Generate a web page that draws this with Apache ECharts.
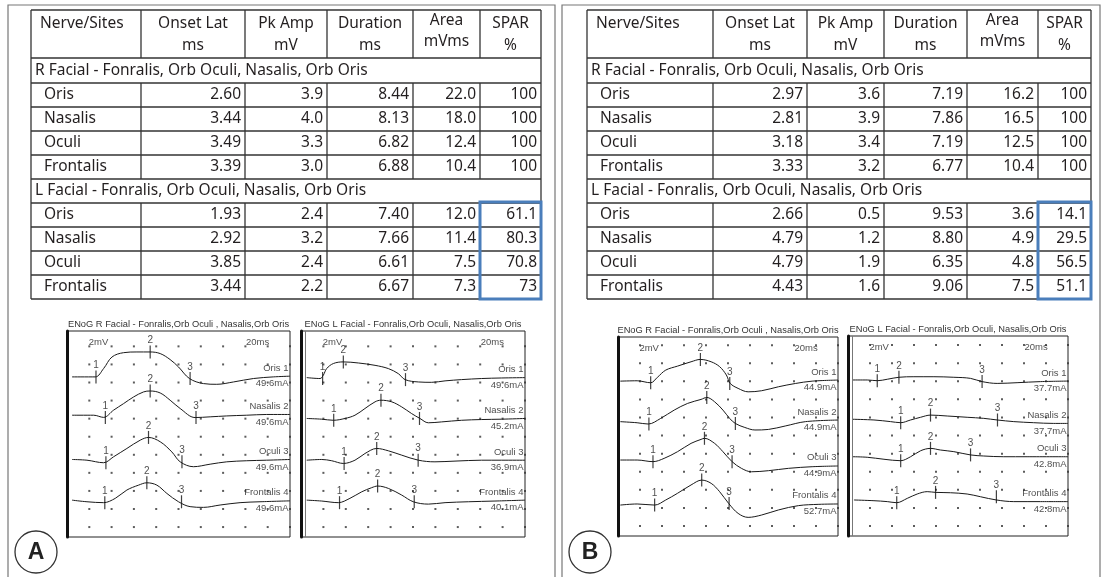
<!DOCTYPE html>
<html>
<head>
<meta charset="utf-8">
<script src="https://cdn.jsdelivr.net/npm/echarts@6/dist/echarts.min.js"></script>
<style>
  html, body { margin: 0; padding: 0; background: #fff; }
  #chart { width: 1109px; height: 577px; }
</style>
</head>
<body>
<div id="chart"></div>
<script>
// ---- table data ----
var headers = [['Nerve/Sites', ''], ['Onset Lat', 'ms'], ['Pk Amp', 'mV'], ['Duration', 'ms'], ['Area', 'mVms'], ['SPAR', '%']];
var groupR = 'R Facial - Fonralis, Orb Oculi, Nasalis, Orb Oris';
var groupL = 'L Facial - Fonralis, Orb Oculi, Nasalis, Orb Oris';
var sites = ['Oris', 'Nasalis', 'Oculi', 'Frontalis'];

// onset lat, pk amp, duration, area, spar
var tabA_R = [['2.60', '3.9', '8.44', '22.0', '100'], ['3.44', '4.0', '8.13', '18.0', '100'], ['3.49', '3.3', '6.82', '12.4', '100'], ['3.39', '3.0', '6.88', '10.4', '100']];
var tabA_L = [['1.93', '2.4', '7.40', '12.0', '61.1'], ['2.92', '3.2', '7.66', '11.4', '80.3'], ['3.85', '2.4', '6.61', '7.5', '70.8'], ['3.44', '2.2', '6.67', '7.3', '73']];
var tabB_R = [['2.97', '3.6', '7.19', '16.2', '100'], ['2.81', '3.9', '7.86', '16.5', '100'], ['3.18', '3.4', '7.19', '12.5', '100'], ['3.33', '3.2', '6.77', '10.4', '100']];
var tabB_L = [['2.66', '0.5', '9.53', '3.6', '14.1'], ['4.79', '1.2', '8.80', '4.9', '29.5'], ['4.79', '1.9', '6.35', '4.8', '56.5'], ['4.43', '1.6', '9.06', '7.5', '51.1']];

// ---- waveform data: [time ms, level in divisions] ----
var traceNames = ['Oris 1', 'Nasalis 2', 'Oculi 3', 'Frontalis 4'];
var gridTimes = [2, 4, 6, 8, 10, 12, 14, 16, 18, 20];
var gridRows = [0.55, 1.55, 2.55, 3.55, 4.55, 5.55, 6.55, 7.55, 8.55, 9.55, 10.55];

var wavA_R = [
  [[0.45,8.86],[2.54,8.86],[3.28,9.32],[4.03,9.96],[5.07,10.2],[6.27,10.24],[7.46,10.24],[8.36,10.15],[9.25,9.82],[10.0,9.41],[10.98,8.77],[12.24,8.49],[13.43,8.45],[14.93,8.58],[16.72,8.77],[18.5,8.86],[20,8.9]],
  [[0.45,6.74],[2.39,6.74],[3.28,6.62],[4.18,7.02],[5.07,7.38],[5.97,7.75],[6.87,8.03],[7.46,8.08],[8.36,7.97],[9.25,7.57],[10.15,7.11],[11.49,6.61],[12.84,6.65],[14.33,6.7],[16.12,6.74],[17.91,6.78],[20,6.78]],
  [[0.45,4.29],[1.79,4.25],[3.28,4.11],[4.18,4.44],[5.37,4.9],[6.57,5.36],[7.31,5.51],[8.36,5.27],[9.4,4.71],[10.15,4.16],[11.34,3.89],[12.84,4.03],[14.33,4.16],[16.12,4.22],[17.91,4.25],[20,4.29]],
  [[0.45,2.04],[1.79,1.95],[3.28,1.9],[4.33,2.14],[5.37,2.6],[6.42,2.87],[7.16,3.0],[8.06,2.87],[8.96,2.41],[10.0,1.95],[11.04,1.68],[12.24,1.64],[13.73,1.77],[15.52,1.9],[17.31,1.95],[20,2.0]]
];
var wavA_L = [
  [[0.51,8.82],[1.7,8.77],[1.99,8.95],[2.29,9.32],[2.89,9.6],[3.78,9.69],[5.12,9.63],[6.61,9.5],[7.8,9.32],[8.69,9.04],[9.29,8.71],[10.48,8.58],[11.67,8.56],[12.86,8.64],[14.34,8.71],[16.13,8.77],[17.92,8.8],[20,8.82]],
  [[0.51,6.56],[1.85,6.52],[2.89,6.46],[3.93,6.56],[4.82,6.74],[5.71,7.11],[6.61,7.48],[7.14,7.57],[8.1,7.48],[8.99,7.2],[9.88,6.83],[10.62,6.56],[11.37,6.32],[12.56,6.37],[14.34,6.46],[16.13,6.5],[17.92,6.52],[20,6.56]],
  [[0.51,4.25],[1.85,4.29],[2.74,4.22],[3.78,4.07],[4.82,4.25],[5.71,4.62],[6.76,4.9],[7.8,4.77],[8.99,4.53],[10.48,4.25],[11.96,4.16],[13.75,4.2],[16.13,4.25],[17.92,4.25],[20,4.25]],
  [[0.51,2.04],[1.85,1.99],[3.33,1.9],[4.37,2.14],[5.42,2.5],[6.31,2.73],[6.84,2.82],[7.8,2.69],[8.99,2.32],[10.03,1.95],[11.37,1.82],[12.86,1.9],[14.94,1.95],[17.32,1.99],[20,2.04]]
];
var wavB_R = [
  [[0.21,8.56],[1.74,8.58],[2.97,8.47],[3.58,8.77],[4.34,9.17],[5.41,9.39],[6.64,9.63],[7.49,9.76],[8.47,9.63],[9.24,9.36],[9.85,8.9],[10.21,8.43],[10.92,8.16],[11.83,7.97],[13.06,8.03],[14.59,8.25],[16.12,8.43],[17.65,8.56],[20,8.62]],
  [[0.21,6.32],[1.74,6.26],[2.75,6.19],[3.88,6.5],[5.11,6.96],[6.33,7.33],[7.55,7.55],[8.07,7.66],[8.78,7.42],[9.54,6.96],[10.15,6.5],[10.67,6.22],[11.53,6.0],[12.45,5.86],[13.67,5.89],[15.2,6.08],[17.03,6.32],[20,6.41]],
  [[0.21,4.2],[1.74,4.2],[3.18,4.11],[4.19,4.29],[5.41,4.66],[6.64,5.12],[7.55,5.34],[7.86,5.4],[8.78,5.12],[9.54,4.66],[10.37,4.11],[11.22,3.74],[12.14,3.55],[13.67,3.61],[15.5,3.74],[17.65,3.83],[20,3.87]],
  [[0.21,1.71],[1.74,1.77],[3.33,1.71],[4.34,1.99],[5.41,2.36],[6.64,2.82],[7.61,3.09],[8.47,2.91],[9.24,2.45],[10.06,1.8],[10.92,1.25],[11.83,1.03],[13.06,1.16],[14.59,1.44],[16.42,1.68],[18.26,1.75],[20,1.77]]
];
var wavB_L = [
  [[0.39,8.62],[1.75,8.62],[2.66,8.58],[3.57,8.66],[4.63,8.77],[5.99,8.8],[7.81,8.8],[9.62,8.77],[11.13,8.71],[12.19,8.53],[13.56,8.43],[15.37,8.47],[17.49,8.53],[20,8.56]],
  [[0.39,6.45],[2.36,6.41],[3.87,6.32],[4.78,6.26],[5.69,6.41],[6.6,6.56],[7.5,6.68],[9.02,6.63],[10.83,6.56],[12.34,6.5],[13.56,6.41],[15.07,6.32],[16.88,6.26],[18.7,6.22],[20,6.22]],
  [[0.39,4.38],[1.75,4.35],[3.27,4.24],[4.78,4.16],[5.69,4.38],[6.6,4.71],[7.5,4.84],[8.41,4.75],[9.62,4.66],[11.13,4.48],[12.34,4.42],[14.16,4.38],[16.28,4.38],[20,4.38]],
  [[0.54,1.99],[2.36,1.95],[3.57,1.9],[4.42,1.84],[5.39,2.08],[6.29,2.32],[7.2,2.45],[7.96,2.41],[9.32,2.39],[10.83,2.32],[12.04,2.17],[13.49,1.99],[15.07,1.9],[17.49,1.9],[20,1.9]]
];

// peak (marker 2) times and the trace level at markers 1, 2, 3
var peakA_R = [7.46, 7.46, 7.31, 7.16];
var peakA_L = [3.78, 7.14, 6.76, 6.84];
var peakB_R = [7.49, 8.07, 7.86, 7.61];
var peakB_L = [4.63, 7.5, 7.5, 7.96];
var markLvA_R = [[8.86, 10.24, 8.77], [6.62, 8.08, 6.61], [4.11, 5.51, 4.16], [1.9, 3.0, 1.95]];
var markLvA_L = [[8.77, 9.69, 8.71], [6.46, 7.57, 6.56], [4.07, 4.9, 4.25], [1.9, 2.82, 1.95]];
var markLvB_R = [[8.47, 9.76, 8.43], [6.19, 7.66, 6.22], [4.11, 5.4, 4.11], [1.71, 3.09, 1.8]];
var markLvB_L = [[8.58, 8.77, 8.53], [6.26, 6.68, 6.41], [4.16, 4.84, 4.48], [1.84, 2.41, 2.17]];

var currA_R = ['49.6mA', '49.6mA', '49.6mA', '49.6mA'];
var currA_L = ['49.6mA', '45.2mA', '36.9mA', '40.1mA'];
var currB_R = ['44.9mA', '44.9mA', '44.9mA', '52.7mA'];
var currB_L = ['37.7mA', '37.7mA', '42.8mA', '42.8mA'];

var titleR = 'ENoG R Facial - Fonralis,Orb Oculi , Nasalis,Orb Oris';
var titleL = 'ENoG L Facial - Fonralis,Orb Oculi, Nasalis,Orb Oris';

// ---- layout ----
var boxes = [
  { left: 67, top: 331, width: 223, height: 206, yMax: 11.4, wav: wavA_R, peak: peakA_R, lv: markLvA_R, tab: tabA_R, curr: currA_R, title: titleR, artifact: false },
  { left: 301, top: 331, width: 224, height: 206, yMax: 11.4, wav: wavA_L, peak: peakA_L, lv: markLvA_L, tab: tabA_L, curr: currA_L, title: titleL, artifact: true },
  { left: 618, top: 337, width: 220, height: 199, yMax: 11.0, wav: wavB_R, peak: peakB_R, lv: markLvB_R, tab: tabB_R, curr: currB_R, title: titleR, artifact: false },
  { left: 848, top: 336, width: 220, height: 200, yMax: 11.05, wav: wavB_L, peak: peakB_L, lv: markLvB_L, tab: tabB_L, curr: currB_L, title: titleL, artifact: true }
];

var smallFont = 'Liberation Sans';
var grids = [], xAxes = [], yAxes = [], series = [], graphic = [];

boxes.forEach(function (b, i) {
  grids.push({ left: b.left, top: b.top, width: b.width, height: b.height, show: true, borderColor: '#222', borderWidth: 1 });
  xAxes.push({ gridIndex: i, type: 'value', min: 0, max: 20, show: false });
  yAxes.push({
    gridIndex: i, type: 'value', min: 0, max: b.yMax,
    axisLine: { show: true, lineStyle: { color: '#111', width: 3 } },
    axisTick: { show: false }, axisLabel: { show: false }, splitLine: { show: false }
  });

  var dots = [];
  gridTimes.forEach(function (t) { gridRows.forEach(function (r) { dots.push([t, r]); }); });
  series.push({
    type: 'scatter', xAxisIndex: i, yAxisIndex: i, silent: true, symbol: 'rect', symbolSize: 2,
    itemStyle: { color: '#333' }, data: dots, z: 1
  });

  b.wav.forEach(function (w, k) {
    var s = {
      type: 'line', xAxisIndex: i, yAxisIndex: i, silent: true, smooth: 0.35, symbol: 'none',
      lineStyle: { color: '#1a1a1a', width: 1 }, data: w, z: 3
    };
    if (b.artifact && k === 0) {
      s.markLine = {
        silent: true, symbol: 'none', label: { show: false },
        lineStyle: { color: '#777', width: 1, type: 'solid' },
        data: [{ xAxis: 0.35 }]
      };
    }
    series.push(s);
  });

  // markers 1,2,3 : onset, peak, onset + duration
  var marks = [];
  b.tab.forEach(function (row, k) {
    var onset = parseFloat(row[0]), dur = parseFloat(row[2]);
    marks.push([onset, b.lv[k][0], '1']);
    marks.push([b.peak[k], b.lv[k][1], '2']);
    marks.push([onset + dur, b.lv[k][2], '3']);
  });
  series.push({
    type: 'scatter', xAxisIndex: i, yAxisIndex: i, silent: true, symbol: 'rect', symbolSize: [1.2, 13],
    itemStyle: { color: '#111' }, data: marks, z: 4,
    label: { show: true, position: 'top', distance: 0, formatter: function (p) { return p.value[2]; },
      fontSize: 10, fontFamily: smallFont, color: '#222' }
  });

  // trace names and stimulus currents at the right edge
  var tags = [];
  b.wav.forEach(function (w, k) {
    var endLv = w[w.length - 1][1];
    tags.push([20, endLv + 0.45, traceNames[k]]);
    tags.push([20, endLv - 0.42, b.curr[k]]);
  });
  series.push({
    type: 'scatter', xAxisIndex: i, yAxisIndex: i, silent: true, symbolSize: 1,
    itemStyle: { color: 'transparent' }, data: tags, z: 5,
    label: { show: true, position: 'left', distance: 1, formatter: function (p) { return p.value[2]; },
      fontSize: 9.5, fontFamily: smallFont, color: '#222' }
  });

  series.push({
    type: 'scatter', xAxisIndex: i, yAxisIndex: i, silent: true, symbolSize: 1,
    itemStyle: { color: 'transparent' }, data: [[1.9, b.yMax - 0.65, '2mV'], [16, b.yMax - 0.65, '20ms']], z: 5,
    label: { show: true, position: 'right', distance: 0, formatter: function (p) { return p.value[2]; },
      fontSize: 9.5, fontFamily: smallFont, color: '#222' }
  });

  graphic.push({
    type: 'text', silent: true,
    style: { text: b.title, x: b.left + b.width / 2, y: b.top - 7, align: 'center', verticalAlign: 'middle',
      fontSize: 9.3, fontFamily: smallFont, fill: '#333' }
  });
});

// ---- tables ----
var rowLines = [10, 58, 83, 107, 131, 155, 179, 203, 227, 251, 275, 299];
var tableFont = 'Noto Sans';

function buildTable(x0, colW, rowsR, rowsL) {
  var edges = [x0];
  colW.forEach(function (w) { edges.push(edges[edges.length - 1] + w); });
  var xR = edges[edges.length - 1];
  var els = [];
  function ln(x1, y1, x2, y2) {
    els.push({ type: 'line', silent: true, shape: { x1: x1, y1: y1, x2: x2, y2: y2 }, style: { stroke: '#333', lineWidth: 1.3 } });
  }
  function tx(text, x, y, align) {
    els.push({ type: 'text', silent: true, style: { text: text, x: x, y: y, align: align, verticalAlign: 'middle',
      fontSize: 15.5, fontFamily: tableFont, fill: '#231f20' } });
  }
  rowLines.forEach(function (y) { ln(x0, y, xR, y); });
  ln(x0, 10, x0, 299); ln(xR, 10, xR, 299);
  for (var c = 1; c < edges.length - 1; c++) {
    ln(edges[c], 10, edges[c], 58);
    ln(edges[c], 83, edges[c], 179);
    ln(edges[c], 203, edges[c], 299);
  }
  tx(headers[0][0], x0 + 9, 24, 'left');
  for (var h = 1; h < headers.length; h++) {
    var cx = (edges[h] + edges[h + 1]) / 2;
    tx(headers[h][0], cx, h === 4 ? 21 : 24, 'center');
    tx(headers[h][1], cx, h === 4 ? 42 : 46, 'center');
  }
  tx(groupR, x0 + 4, 71, 'left');
  tx(groupL, x0 + 4, 191, 'left');
  [[rowsR, 83], [rowsL, 203]].forEach(function (blk) {
    blk[0].forEach(function (row, k) {
      var yc = blk[1] + 24 * k + 12;
      tx(sites[k], x0 + 13, yc, 'left');
      row.forEach(function (v, j) { tx(v, edges[j + 2] - 4, yc, 'right'); });
    });
  });
  // highlighted SPAR column of the affected side
  els.push({ type: 'rect', silent: true, shape: { x: edges[5], y: 202, width: xR - edges[5], height: 97 },
    style: { fill: 'none', stroke: '#4a7ebb', lineWidth: 3 }, z: 10 });
  return els;
}

graphic = graphic.concat(buildTable(31, [110, 104, 82, 86, 67, 61], tabA_R, tabA_L));
graphic = graphic.concat(buildTable(587, [126, 94, 77, 83, 71, 53], tabB_R, tabB_L));

// panel frames and letters
[[8, 555, 'A'], [562, 1100, 'B']].forEach(function (p) {
  graphic.push({ type: 'rect', silent: true, shape: { x: p[0], y: 5, width: p[1] - p[0], height: 620 },
    style: { fill: 'none', stroke: '#777', lineWidth: 1.2 } });
  graphic.push({ type: 'circle', silent: true, shape: { cx: p[0] + 28, cy: 552, r: 21 },
    style: { fill: '#fff', stroke: '#333', lineWidth: 1.3 } });
  graphic.push({ type: 'text', silent: true, style: { text: p[2], x: p[0] + 28, y: 553, align: 'center', verticalAlign: 'middle',
    fontSize: 23, fontWeight: 'bold', fontFamily: 'Liberation Sans', fill: '#222' } });
});

var chart = echarts.init(document.getElementById('chart'));
chart.setOption({
  animation: false,
  backgroundColor: '#fff',
  grid: grids,
  xAxis: xAxes,
  yAxis: yAxes,
  series: series,
  graphic: graphic
});
</script>
</body>
</html>
